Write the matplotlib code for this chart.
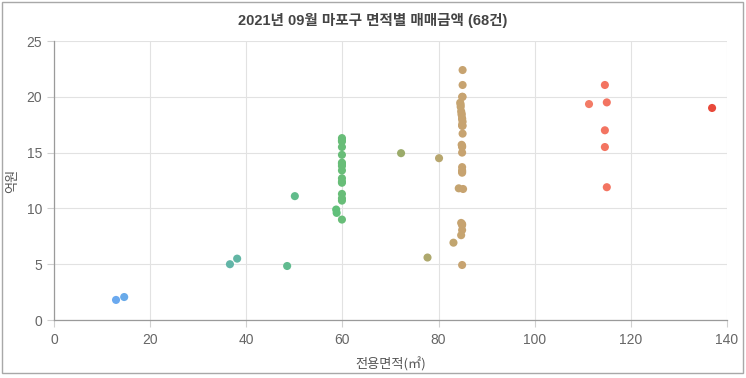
import matplotlib

matplotlib.use('Agg')
import matplotlib.pyplot as plt
from matplotlib.colors import LinearSegmentedColormap, Normalize
from matplotlib.patches import Rectangle
import numpy as np

plt.rcParams['font.family'] = ['Liberation Sans', 'Noto Sans CJK KR', 'DejaVu Sans']

title = '2021년 09월 마포구 면적별 매매금액 (68건)'
x_label = '전용면적(㎡)'
y_label = '억원'

# 전용면적 (m2) and 매매금액 (억원)
area = [
    12.9, 14.6,
    36.6, 38.1, 48.5,
    50.1,
    59.9, 59.9, 59.9, 59.9, 59.9, 59.9, 59.9, 59.9, 59.9, 59.9, 59.9, 59.9, 59.9,
    59.9, 59.9, 59.9,
    58.7, 58.8,
    72.2, 80.1, 77.7,
    85.0, 85.0, 85.0, 84.5, 84.6, 84.7, 84.8, 84.9, 85.0, 85.0, 85.0, 84.8, 84.9,
    84.9, 84.9, 84.9, 84.9, 84.2, 85.1, 84.7, 84.9, 84.9, 84.7, 83.1, 84.9,
    84.9, 84.9, 84.9, 84.9, 84.6, 84.8, 84.9, 84.9,
    114.6, 115.0, 111.3, 114.6, 114.6, 115.0, 136.9,
    84.9,
]
price = [
    1.8, 2.06,
    5.0, 5.5, 4.84,
    11.1,
    16.3, 16.0, 15.5, 14.8, 14.1, 13.8, 13.4, 12.7, 12.3, 11.3, 10.9, 10.7, 9.0,
    16.1, 14.0, 12.4,
    9.9, 9.6,
    14.95, 14.5, 5.6,
    22.4, 21.06, 20.0, 19.47, 19.1, 18.7, 18.37, 18.07, 17.77, 17.4, 16.7, 15.7, 15.5,
    15.0, 13.7, 13.4, 13.2, 11.8, 11.74, 8.7, 8.6, 8.06, 7.6, 6.93, 4.93,
    18.0, 17.5, 15.6, 13.3, 19.3, 18.5, 8.5, 20.0,
    21.06, 19.5, 19.35, 17.0, 15.5, 11.9, 19.0,
    17.4,
]

# colour ramp by area
ramp = LinearSegmentedColormap.from_list('area', [
    (0.00, '#6aa9f0'),
    (0.20, '#62b5a6'),
    (0.37, '#60c07a'),
    (0.48, '#9aab6a'),
    (0.58, '#c6a470'),
    (0.80, '#f47a66'),
    (1.00, '#e8493a'),
])
norm = Normalize(vmin=12, vmax=137)

fig = plt.figure(figsize=(7.46, 3.78), dpi=100)
ax = fig.add_axes([0.0724, 0.1534, 0.9021, 0.7381])

ax.scatter(area, price, s=34, c=[ramp(norm(a)) for a in area], linewidths=0, zorder=3)

ax.set_xlim(0, 140)
ax.set_ylim(0, 25)
ax.set_xticks(np.arange(0, 141, 20))
ax.set_yticks(np.arange(0, 26, 5))
ax.grid(True, color='#e2e2e2', linewidth=0.8)
ax.set_axisbelow(True)
for side in ['top', 'right']:
    ax.spines[side].set_visible(False)
for side in ['left', 'bottom']:
    ax.spines[side].set_color('#9a9a9a')
    ax.spines[side].set_linewidth(0.9)
ax.tick_params(colors='#d0d0d0', labelcolor='#666666', labelsize=10, length=5, width=0.8)
ax.tick_params(axis='x', pad=4)

ax.set_xlabel(x_label, fontsize=9.5, color='#555555', labelpad=8,
              family=['Noto Sans CJK KR', 'DejaVu Sans'])
ax.set_ylabel(y_label, fontsize=9.5, color='#555555')
ax.yaxis.set_label_coords(-0.052, 0.5)
fig.text(0.5, 0.947, title, ha='center', va='center', fontsize=10.5, fontweight='bold', color='#444444')

fig.patches.append(Rectangle((2 / 746, 5 / 378), 741 / 746, 371 / 378, transform=fig.transFigure,
                             fill=False, edgecolor='#a8a8a8', linewidth=1.0))

fig.savefig('out.png', dpi=100, facecolor='white')
